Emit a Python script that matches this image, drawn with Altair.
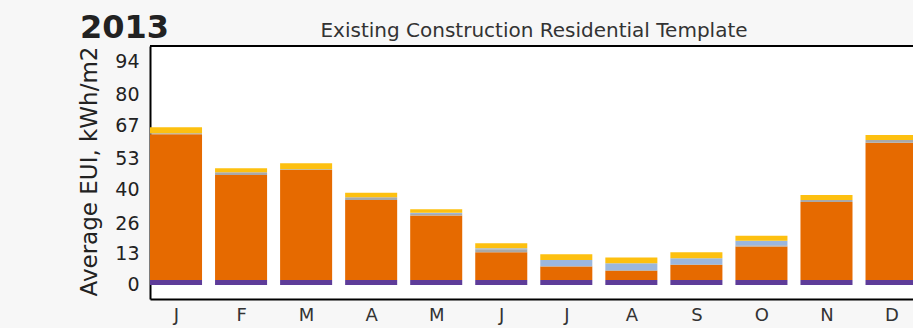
import altair as alt
import pandas as pd

# Monthly end-use EUI (kWh/m2), stacked bottom to top
months = ["J", "F", "M", "A", "M", "J", "J", "A", "S", "O", "N", "D"]
series = ["Equipment", "Heating", "Fans", "Cooling", "Lighting"]
colors = ["#5e3c99", "#e66a00", "#a9a9a9", "#9bb7de", "#fdc010"]

equipment = [2.1, 2.1, 2.1, 2.1, 2.1, 2.1, 2.1, 2.1, 2.1, 2.1, 2.1, 2.1]
heating = [61.2, 44.1, 46.1, 33.6, 27.1, 11.6, 5.6, 3.9, 6.3, 14.0, 32.7, 57.6]
fans = [0.4, 1.1, 0.4, 1.1, 0.6, 1.3, 0.3, 0.3, 0.3, 0.6, 0.9, 1.1]
cooling = [0.0, 0.0, 0.0, 0.0, 0.5, 0.4, 2.5, 2.8, 2.5, 1.9, 0.0, 0.0]
lighting = [2.5, 1.7, 2.5, 1.9, 1.5, 2.1, 2.4, 2.4, 2.5, 2.0, 2.1, 2.1]

y_ticks = [0, 13, 26, 40, 53, 67, 80, 94]
year_label = "2013"
chart_title = "Existing Construction Residential Template"

rows = []
for s_idx, (name, vals) in enumerate(zip(series, [equipment, heating, fans, cooling, lighting])):
    for m_idx, v in enumerate(vals):
        rows.append({"idx": m_idx, "month": months[m_idx], "series": name,
                     "ord": s_idx, "value": v})
df = pd.DataFrame(rows)

FONT = "DejaVu Sans"
month_expr = "[" + ",".join("'%s'" % m for m in months) + "][datum.value]"

x_scale = alt.Scale(domain=[-0.4, 11.33], nice=False, zero=False)
y_scale = alt.Scale(domain=[-5.9, 100.3], nice=False, zero=False)

bars = alt.Chart(df).transform_stack(
    stack="value", groupby=["idx"], as_=["y0", "y1"],
    sort=[alt.SortField("ord", order="ascending")]
).transform_calculate(
    x0="datum.idx - 0.4", x1="datum.idx + 0.4"
).mark_bar(clip=True, strokeWidth=0).encode(
    x=alt.X("x0:Q", scale=x_scale,
            axis=alt.Axis(values=list(range(12)), labelExpr=month_expr, title=None,
                          ticks=False, grid=False, labelPadding=7, labelFontSize=18,
                          labelColor="#333333", labelFont=FONT, domainColor="black",
                          domainWidth=2)),
    x2="x1:Q",
    y=alt.Y("y0:Q", scale=y_scale,
            axis=alt.Axis(values=y_ticks, title="Average EUI, kWh/m2", ticks=False,
                          grid=False, labelPadding=11, labelFontSize=19,
                          labelColor="#222222", labelFont=FONT, titleFont=FONT,
                          titleFontSize=23, titleFontWeight="normal", titleColor="#222222",
                          titleX=-61, titleY=125, titleAngle=270, titleAlign="center",
                          titleBaseline="middle", domainColor="black", domainWidth=2)),
    y2="y1:Q",
    color=alt.Color("series:N", scale=alt.Scale(domain=series, range=colors), legend=None),
)

top_line = alt.Chart(pd.DataFrame({"a": [0]})).mark_rule(color="black", strokeWidth=2).encode(
    x=alt.value(0), x2=alt.value(763), y=alt.value(0)
)

texts = pd.DataFrame({"t": [year_label, chart_title],
                      "kind": ["year", "title"]})

year = alt.Chart(texts).transform_filter("datum.kind == 'year'").mark_text(
    font=FONT, fontSize=32, fontWeight="bold", color="#222222", align="left",
    baseline="alphabetic"
).encode(x=alt.value(-70), y=alt.value(-8), text="t:N")

title = alt.Chart(texts).transform_filter("datum.kind == 'title'").mark_text(
    font=FONT, fontSize=20, color="#333333", align="center", baseline="alphabetic"
).encode(x=alt.value(384), y=alt.value(-9), text="t:N")

chart = alt.layer(bars, top_line, year, title).properties(
    width=763, height=253,
    autosize=alt.AutoSizeParams(type="none"),
    padding={"left": 150, "top": 46, "right": 0, "bottom": 29},
    background="#f7f7f7",
).configure_view(fill="white", stroke=None)

chart.save("out.html", embed_options={"renderer": "svg", "actions": False})
